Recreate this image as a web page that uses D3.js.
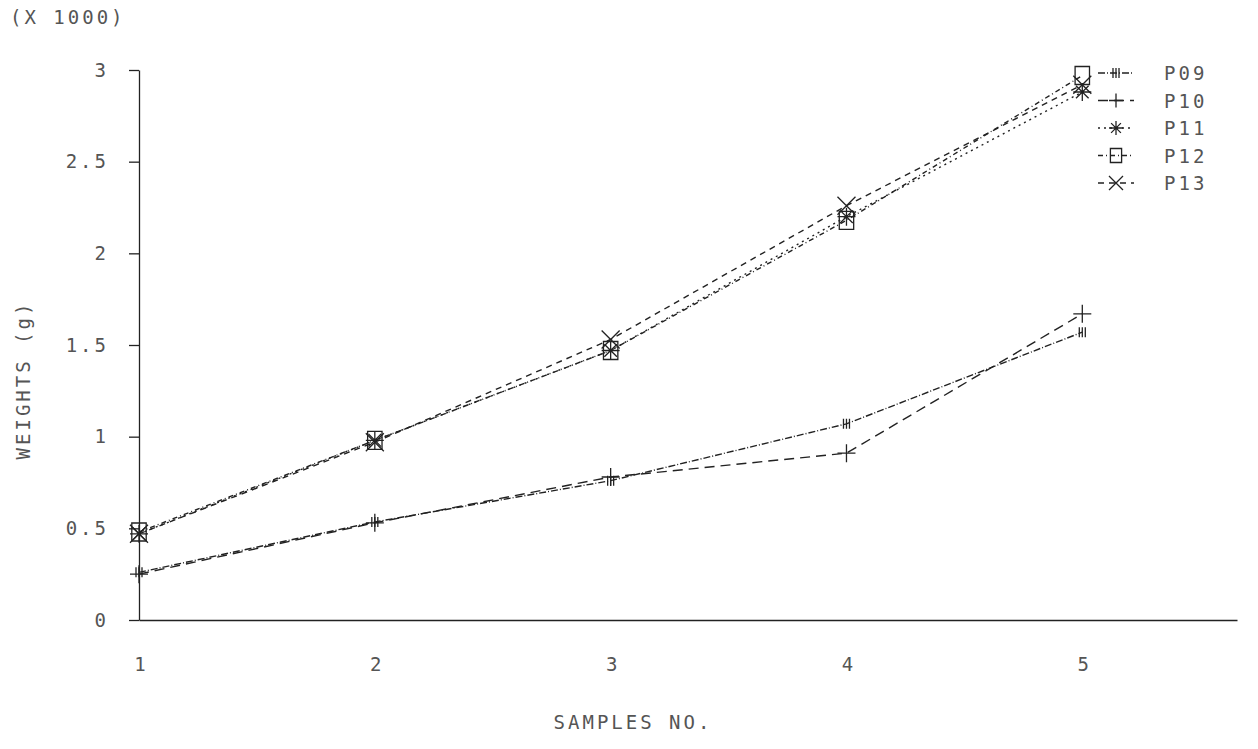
<!DOCTYPE html>
<html lang="en">
<head>
  <meta charset="utf-8">
  <script src="https://d3js.org/d3.v7.min.js"></script>
  <style>
    body { margin: 0; background: #fff; }
    text { font-family: "DejaVu Sans Mono", monospace; fill: #555; letter-spacing: 3px; }
    .domain, .tick line { stroke: #222; stroke-width: 1.3px; }
  </style>
</head>
<body>
<script>
  // values in thousands of grams
  var samples = [1, 2, 3, 4, 5];
  var seriesNames = ["P09", "P10", "P11", "P12", "P13"];
  var p09 = [0.26, 0.535, 0.76, 1.07, 1.57];
  var p10 = [0.25, 0.53, 0.78, 0.91, 1.67];
  var p11 = [0.47, 0.98, 1.47, 2.2, 2.88];
  var p12 = [0.48, 0.98, 1.47, 2.18, 2.97];
  var p13 = [0.47, 0.97, 1.53, 2.26, 2.92];
  var yTicks = [0, 0.5, 1, 1.5, 2, 2.5, 3];
  var yTickLabels = ["0", "0.5", "1", "1.5", "2", "2.5", "3"];

  var allSeries = [p09, p10, p11, p12, p13];
  var dashes = ["7,2,1,2", "10,6", "2,4", "5,3,1,3", "6,5"];
  var markers = ["bars", "plus", "star", "square", "cross"];

  var width = 1258, height = 749;
  var svg = d3.select("body").append("svg").attr("width", width).attr("height", height);

  var x = d3.scaleLinear().domain([1, 5.656]).range([139, 1237]);
  var y = d3.scaleLinear().domain([0, 3]).range([620, 70]);

  // y axis
  var yAxis = d3.axisLeft(y).tickValues(yTicks).tickSize(10).tickSizeOuter(0)
    .tickFormat(function(d, i) { return yTickLabels[i]; });
  var gy = svg.append("g").attr("transform", "translate(139,0)").call(yAxis);
  gy.selectAll("text").attr("x", -30).style("font-size", "19px");

  // x axis, no ticks
  var xAxis = d3.axisBottom(x).tickValues(samples).tickSize(0).tickFormat(d3.format("d"));
  var gx = svg.append("g").attr("transform", "translate(0,620)").call(xAxis);
  gx.selectAll("text").attr("y", 38).attr("dx", "2px").style("font-size", "19px");

  svg.append("text").attr("x", 10).attr("y", 24).style("font-size", "19px").text("(X 1000)");
  svg.append("text").attr("transform", "translate(30,380) rotate(-90)")
    .attr("text-anchor", "middle").style("font-size", "19px").text("WEIGHTS (g)");
  svg.append("text").attr("x", 633).attr("y", 729).attr("text-anchor", "middle")
    .style("font-size", "19px").text("SAMPLES NO.");

  var line = d3.line().x(function(d, i) { return x(samples[i]); }).y(function(d) { return y(d); });

  function drawMarker(g, type, cx, cy, s) {
    var h = s / 2;
    var p = g.append("path").attr("fill", "none").attr("stroke", "#222").attr("stroke-width", 1.3);
    if (type === "bars") {
      p.attr("d", "M" + (cx - 3) + "," + (cy - 5) + "V" + (cy + 5) + "M" + cx + "," + (cy - 5) + "V" + (cy + 5) +
        "M" + (cx + 3) + "," + (cy - 5) + "V" + (cy + 5));
    } else if (type === "plus") {
      p.attr("d", "M" + (cx - h) + "," + cy + "H" + (cx + h) + "M" + cx + "," + (cy - h) + "V" + (cy + h));
    } else if (type === "star") {
      p.attr("d", "M" + (cx - h) + "," + cy + "H" + (cx + h) + "M" + cx + "," + (cy - h) + "V" + (cy + h) +
        "M" + (cx - h * 0.7) + "," + (cy - h * 0.7) + "L" + (cx + h * 0.7) + "," + (cy + h * 0.7) +
        "M" + (cx - h * 0.7) + "," + (cy + h * 0.7) + "L" + (cx + h * 0.7) + "," + (cy - h * 0.7));
    } else if (type === "square") {
      p.attr("d", "M" + (cx - h * 0.8) + "," + (cy - h) + "h" + (h * 1.6) + "v" + (h * 2) + "h" + (-h * 1.6) + "Z");
    } else if (type === "cross") {
      p.attr("d", "M" + (cx - h) + "," + (cy - h) + "L" + (cx + h) + "," + (cy + h) +
        "M" + (cx - h) + "," + (cy + h) + "L" + (cx + h) + "," + (cy - h));
    }
  }

  allSeries.forEach(function(vals, k) {
    var g = svg.append("g");
    g.append("path").datum(vals).attr("d", line).attr("fill", "none")
      .attr("stroke", "#222").attr("stroke-width", 1.4).attr("stroke-dasharray", dashes[k]);
    vals.forEach(function(v, i) { drawMarker(g, markers[k], x(samples[i]), y(v), 18); });
  });

  // legend
  var legend = svg.append("g");
  seriesNames.forEach(function(name, k) {
    var ly = 73 + k * 27.5;
    legend.append("line").attr("x1", 1098).attr("x2", 1134).attr("y1", ly).attr("y2", ly)
      .attr("stroke", "#222").attr("stroke-width", 1.4).attr("stroke-dasharray", dashes[k]);
    drawMarker(legend, markers[k], 1116, ly, 14);
    legend.append("text").attr("x", 1164).attr("y", ly + 7).style("font-size", "19px").text(name);
  });
</script>
</body>
</html>
